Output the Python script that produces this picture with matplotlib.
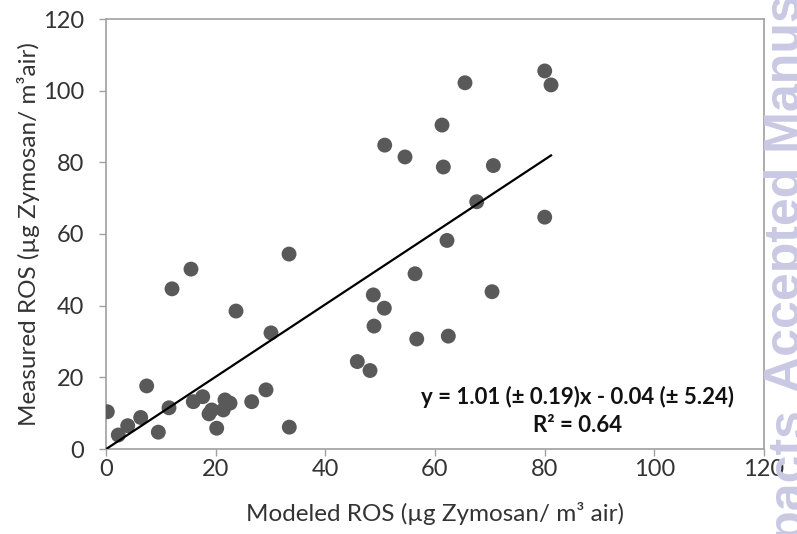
import matplotlib
matplotlib.use("Agg")
import matplotlib.pyplot as plt
import numpy as np

plt.rcParams['font.family'] = ['Lato', 'DejaVu Sans']

modeled = [0.24, 2.24, 3.96, 6.33, 7.42, 9.54, 11.49, 12.04, 15.50, 15.92, 17.64, 19.28,
           18.79, 20.19, 21.70, 21.39, 22.62, 23.71, 26.57, 29.18, 30.09, 33.38, 33.43,
           45.83, 48.15, 48.75, 48.88, 50.83, 50.76, 54.53, 56.36, 56.67, 61.28, 61.52,
           62.19, 62.43, 65.47, 67.61, 70.64, 70.40, 80.01, 80.01, 81.16]
measured = [10.4, 3.9, 6.5, 8.8, 17.6, 4.7, 11.5, 44.7, 50.2, 13.2, 14.6, 10.9, 9.8,
            5.8, 13.7, 10.9, 12.8, 38.5, 13.2, 16.5, 32.4, 54.4, 6.1, 24.4, 21.9,
            43.0, 34.3, 84.8, 39.3, 81.5, 48.9, 30.7, 90.4, 78.7, 58.2, 31.5, 102.2,
            69.0, 79.1, 43.9, 64.7, 105.5, 101.6]
slope = 1.01
intercept = -0.04
x_ticks = [0, 20, 40, 60, 80, 100, 120]
y_ticks = [0, 20, 40, 60, 80, 100, 120]
eq_text = "y = 1.01 (± 0.19)x - 0.04 (± 5.24)\nR² = 0.64"

fig = plt.figure(figsize=(7.97, 5.34), dpi=100)
ax = fig.add_axes([106/797, 85/534, (764-106)/797, (449-19)/534])

ax.scatter(modeled, measured, s=115, color='#595959', edgecolors='none', zorder=3)
xl = np.array([min(modeled), max(modeled)])
ax.plot(xl, slope*xl + intercept, color='black', lw=1.6, zorder=4)

ax.set_xlim(0, 120)
ax.set_ylim(0, 120)
ax.set_xticks(x_ticks)
ax.set_yticks(y_ticks)
ax.tick_params(direction='out', length=5, width=1, color='#a0a0a0',
               labelsize=17, labelcolor='#333333')
ax.tick_params(axis='y', pad=11)
ax.tick_params(axis='x', pad=2)
for s in ax.spines.values():
    s.set_color('#a0a0a0')
    s.set_linewidth(1.2)

ax.set_xlabel("Modeled ROS (µg Zymosan/ m³ air)", fontsize=17.5, color='#333333', labelpad=16)
ax.set_ylabel("Measured ROS (µg Zymosan/ m³air)", fontsize=17.5, color='#333333', labelpad=1.5)

ax.text(86.0, 10.6, eq_text, ha='center', va='center', fontsize=16,
        fontweight='bold', color='#111111', linespacing=1.4, zorder=5)

wm = '#c9c9e3'
fig.text(1.004, 1 - 392/534, "Accepted Manuscript", rotation=90, rotation_mode='anchor',
         ha='left', va='baseline', fontsize=36, fontweight='bold', color=wm,
         family='Liberation Sans')
fig.text(1.004, 1 - 406/534, "Impacts", rotation=90, rotation_mode='anchor',
         ha='right', va='baseline', fontsize=36, fontweight='bold', color=wm,
         family='Liberation Sans')

fig.savefig("out.png", dpi=100)
